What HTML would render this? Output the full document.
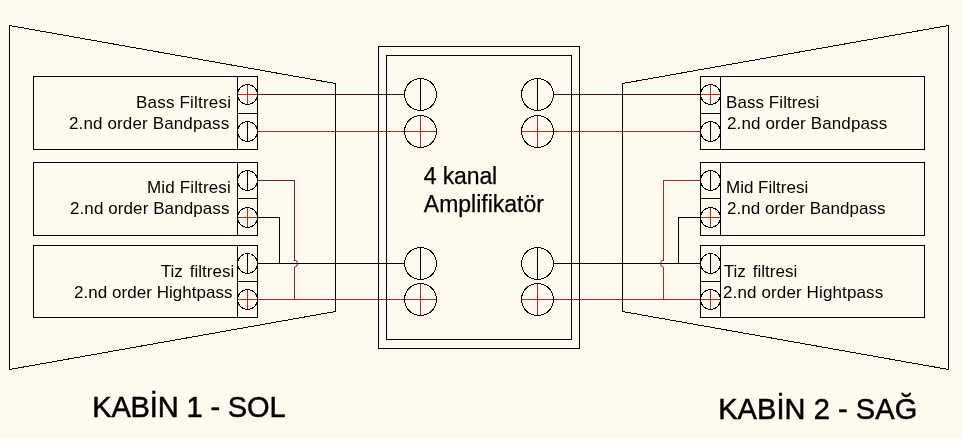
<!DOCTYPE html>
<html><head><meta charset="utf-8"><style>
html,body{margin:0;padding:0;background:#FEFBEE;}
svg{display:block;will-change:transform;}
text{font-family:"Liberation Sans",sans-serif;}
</style></head><body>
<svg width="963" height="439" viewBox="0 0 963 439">
<rect width="963" height="439" fill="#FEFBEE"/>
<g stroke-width="1" shape-rendering="crispEdges"><polygon points="9.5,25.5 335.5,83.5 335.5,311.5 9.5,369.5" fill="none" stroke="#000000"/><polygon points="948.5,25.5 622.5,83.5 622.5,311.5 948.5,369.5" fill="none" stroke="#000000"/></g>
<g shape-rendering="crispEdges"><rect x="33" y="76" width="225" height="1" fill="#000000"/><rect x="33" y="149" width="225" height="1" fill="#000000"/><rect x="33" y="76" width="1" height="74" fill="#000000"/><rect x="257" y="76" width="1" height="74" fill="#000000"/><rect x="237" y="76" width="1" height="74" fill="#000000"/><rect x="237" y="113" width="21" height="1" fill="#000000"/><rect x="700" y="76" width="225" height="1" fill="#000000"/><rect x="700" y="149" width="225" height="1" fill="#000000"/><rect x="700" y="76" width="1" height="74" fill="#000000"/><rect x="924" y="76" width="1" height="74" fill="#000000"/><rect x="720" y="76" width="1" height="74" fill="#000000"/><rect x="700" y="113" width="21" height="1" fill="#000000"/><rect x="33" y="162" width="225" height="1" fill="#000000"/><rect x="33" y="235" width="225" height="1" fill="#000000"/><rect x="33" y="162" width="1" height="74" fill="#000000"/><rect x="257" y="162" width="1" height="74" fill="#000000"/><rect x="237" y="162" width="1" height="74" fill="#000000"/><rect x="237" y="198" width="21" height="1" fill="#000000"/><rect x="700" y="162" width="225" height="1" fill="#000000"/><rect x="700" y="235" width="225" height="1" fill="#000000"/><rect x="700" y="162" width="1" height="74" fill="#000000"/><rect x="924" y="162" width="1" height="74" fill="#000000"/><rect x="720" y="162" width="1" height="74" fill="#000000"/><rect x="700" y="198" width="21" height="1" fill="#000000"/><rect x="33" y="245" width="225" height="1" fill="#000000"/><rect x="33" y="317" width="225" height="1" fill="#000000"/><rect x="33" y="245" width="1" height="73" fill="#000000"/><rect x="257" y="245" width="1" height="73" fill="#000000"/><rect x="237" y="245" width="1" height="73" fill="#000000"/><rect x="237" y="281" width="21" height="1" fill="#000000"/><rect x="700" y="245" width="225" height="1" fill="#000000"/><rect x="700" y="317" width="225" height="1" fill="#000000"/><rect x="700" y="245" width="1" height="73" fill="#000000"/><rect x="924" y="245" width="1" height="73" fill="#000000"/><rect x="720" y="245" width="1" height="73" fill="#000000"/><rect x="700" y="281" width="21" height="1" fill="#000000"/><rect x="378" y="46" width="202" height="1" fill="#000000"/><rect x="378" y="348" width="202" height="1" fill="#000000"/><rect x="378" y="46" width="1" height="303" fill="#000000"/><rect x="579" y="46" width="1" height="303" fill="#000000"/><rect x="386" y="55" width="186" height="1" fill="#000000"/><rect x="386" y="339" width="186" height="1" fill="#000000"/><rect x="386" y="55" width="1" height="285" fill="#000000"/><rect x="571" y="55" width="1" height="285" fill="#000000"/><rect x="237" y="94" width="21" height="1" fill="#B82828"/><rect x="247" y="84" width="1" height="21" fill="#B82828"/><rect x="700" y="94" width="21" height="1" fill="#B82828"/><rect x="710" y="84" width="1" height="21" fill="#B82828"/><rect x="247" y="121" width="1" height="21" fill="#000000"/><rect x="710" y="121" width="1" height="21" fill="#000000"/><rect x="247" y="170" width="1" height="21" fill="#000000"/><rect x="710" y="170" width="1" height="21" fill="#000000"/><rect x="237" y="217" width="21" height="1" fill="#B82828"/><rect x="247" y="207" width="1" height="21" fill="#B82828"/><rect x="700" y="217" width="21" height="1" fill="#B82828"/><rect x="710" y="207" width="1" height="21" fill="#B82828"/><rect x="247" y="253" width="1" height="21" fill="#000000"/><rect x="710" y="253" width="1" height="21" fill="#000000"/><rect x="237" y="299" width="21" height="1" fill="#B82828"/><rect x="247" y="289" width="1" height="21" fill="#B82828"/><rect x="700" y="299" width="21" height="1" fill="#B82828"/><rect x="710" y="289" width="1" height="21" fill="#B82828"/><rect x="420" y="78" width="1" height="33" fill="#000000"/><rect x="537" y="78" width="1" height="33" fill="#000000"/><rect x="404" y="131" width="33" height="1" fill="#B82828"/><rect x="420" y="115" width="1" height="33" fill="#B82828"/><rect x="521" y="131" width="33" height="1" fill="#B82828"/><rect x="537" y="115" width="1" height="33" fill="#B82828"/><rect x="420" y="247" width="1" height="33" fill="#000000"/><rect x="537" y="247" width="1" height="33" fill="#000000"/><rect x="404" y="299" width="33" height="1" fill="#B82828"/><rect x="420" y="283" width="1" height="33" fill="#B82828"/><rect x="521" y="299" width="33" height="1" fill="#B82828"/><rect x="537" y="283" width="1" height="33" fill="#B82828"/><rect x="257" y="94" width="148" height="1" fill="#4A1818"/><rect x="257" y="131" width="148" height="1" fill="#B02A2A"/><rect x="257" y="263" width="148" height="1" fill="#000000"/><rect x="257" y="299" width="148" height="1" fill="#9A2C34"/><rect x="257" y="180" width="38" height="1" fill="#6E2222"/><rect x="294" y="180" width="1" height="81" fill="#6E2222"/><rect x="294" y="267" width="1" height="33" fill="#7A2626"/><rect x="257" y="217" width="23" height="1" fill="#000000"/><rect x="279" y="217" width="1" height="47" fill="#000000"/><rect x="553" y="94" width="148" height="1" fill="#4A1818"/><rect x="553" y="131" width="148" height="1" fill="#B02A2A"/><rect x="553" y="263" width="148" height="1" fill="#000000"/><rect x="553" y="299" width="148" height="1" fill="#9A2C34"/><rect x="663" y="180" width="38" height="1" fill="#963030"/><rect x="663" y="180" width="1" height="81" fill="#963030"/><rect x="663" y="267" width="1" height="33" fill="#963030"/><rect x="678" y="217" width="23" height="1" fill="#000000"/><rect x="678" y="217" width="1" height="47" fill="#000000"/></g>
<g stroke-width="1" shape-rendering="crispEdges"><circle cx="247.5" cy="94.5" r="10" fill="none" stroke="#000000"/><circle cx="710.5" cy="94.5" r="10" fill="none" stroke="#000000"/><circle cx="247.5" cy="131.5" r="10" fill="none" stroke="#000000"/><circle cx="710.5" cy="131.5" r="10" fill="none" stroke="#000000"/><circle cx="247.5" cy="180.5" r="10" fill="none" stroke="#000000"/><circle cx="710.5" cy="180.5" r="10" fill="none" stroke="#000000"/><circle cx="247.5" cy="217.5" r="10" fill="none" stroke="#000000"/><circle cx="710.5" cy="217.5" r="10" fill="none" stroke="#000000"/><circle cx="247.5" cy="263.5" r="10" fill="none" stroke="#000000"/><circle cx="710.5" cy="263.5" r="10" fill="none" stroke="#000000"/><circle cx="247.5" cy="299.5" r="10" fill="none" stroke="#000000"/><circle cx="710.5" cy="299.5" r="10" fill="none" stroke="#000000"/><circle cx="420.5" cy="94.5" r="16" fill="none" stroke="#000000"/><circle cx="537.5" cy="94.5" r="16" fill="none" stroke="#000000"/><circle cx="420.5" cy="131.5" r="16" fill="none" stroke="#000000"/><circle cx="537.5" cy="131.5" r="16" fill="none" stroke="#000000"/><circle cx="420.5" cy="263.5" r="16" fill="none" stroke="#000000"/><circle cx="537.5" cy="263.5" r="16" fill="none" stroke="#000000"/><circle cx="420.5" cy="299.5" r="16" fill="none" stroke="#000000"/><circle cx="537.5" cy="299.5" r="16" fill="none" stroke="#000000"/></g><g stroke-width="1"><path d="M294.5,260 A3,3.5 0 0 1 294.5,267" fill="none" stroke="#6E2222"/><path d="M663.5,260 A3,3.5 0 0 0 663.5,267" fill="none" stroke="#963030"/></g>
<g fill="#000"><text x="136.00" y="108" font-size="17" textLength="94.98" lengthAdjust="spacing">Bass Filtresi</text><text x="69.00" y="129" font-size="17" textLength="160.20" lengthAdjust="spacing">2.nd order Bandpass</text><text x="147.00" y="193" font-size="17" textLength="83.77" lengthAdjust="spacing">Mid Filtresi</text><text x="70.00" y="214" font-size="17" textLength="159.40" lengthAdjust="spacing">2.nd order Bandpass</text><text x="160.80" y="277" font-size="17" textLength="22.05" lengthAdjust="spacing">Tiz</text><text x="189.80" y="277" font-size="17" textLength="44.39" lengthAdjust="spacing">filtresi</text><text x="74.00" y="298" font-size="17" textLength="158.58" lengthAdjust="spacing">2.nd order Hightpass</text><text x="726.00" y="108" font-size="17" textLength="93.38" lengthAdjust="spacing">Bass Filtresi</text><text x="727.00" y="129" font-size="17" textLength="160.20" lengthAdjust="spacing">2.nd order Bandpass</text><text x="726.00" y="193" font-size="17" textLength="82.17" lengthAdjust="spacing">Mid Filtresi</text><text x="727.00" y="214" font-size="17" textLength="158.60" lengthAdjust="spacing">2.nd order Bandpass</text><text x="723.80" y="277" font-size="17" textLength="22.05" lengthAdjust="spacing">Tiz</text><text x="752.80" y="277" font-size="17" textLength="44.39" lengthAdjust="spacing">filtresi</text><text x="723.00" y="298" font-size="17" textLength="160.18" lengthAdjust="spacing">2.nd order Hightpass</text><text x="423.80" y="184" font-size="23" textLength="73.39" lengthAdjust="spacing" stroke="#000" stroke-width="0.25">4 kanal</text><text x="423.80" y="212" font-size="23" textLength="120.16" lengthAdjust="spacing" stroke="#000" stroke-width="0.25">Amplifikatör</text><text x="92.20" y="417" font-size="29" textLength="193.43" lengthAdjust="spacing" stroke="#000" stroke-width="0.5">KABİN 1 - SOL</text><text x="718.20" y="419" font-size="29" textLength="199.05" lengthAdjust="spacing" stroke="#000" stroke-width="0.5">KABİN 2 - SAĞ</text></g>
</svg>
</body></html>
